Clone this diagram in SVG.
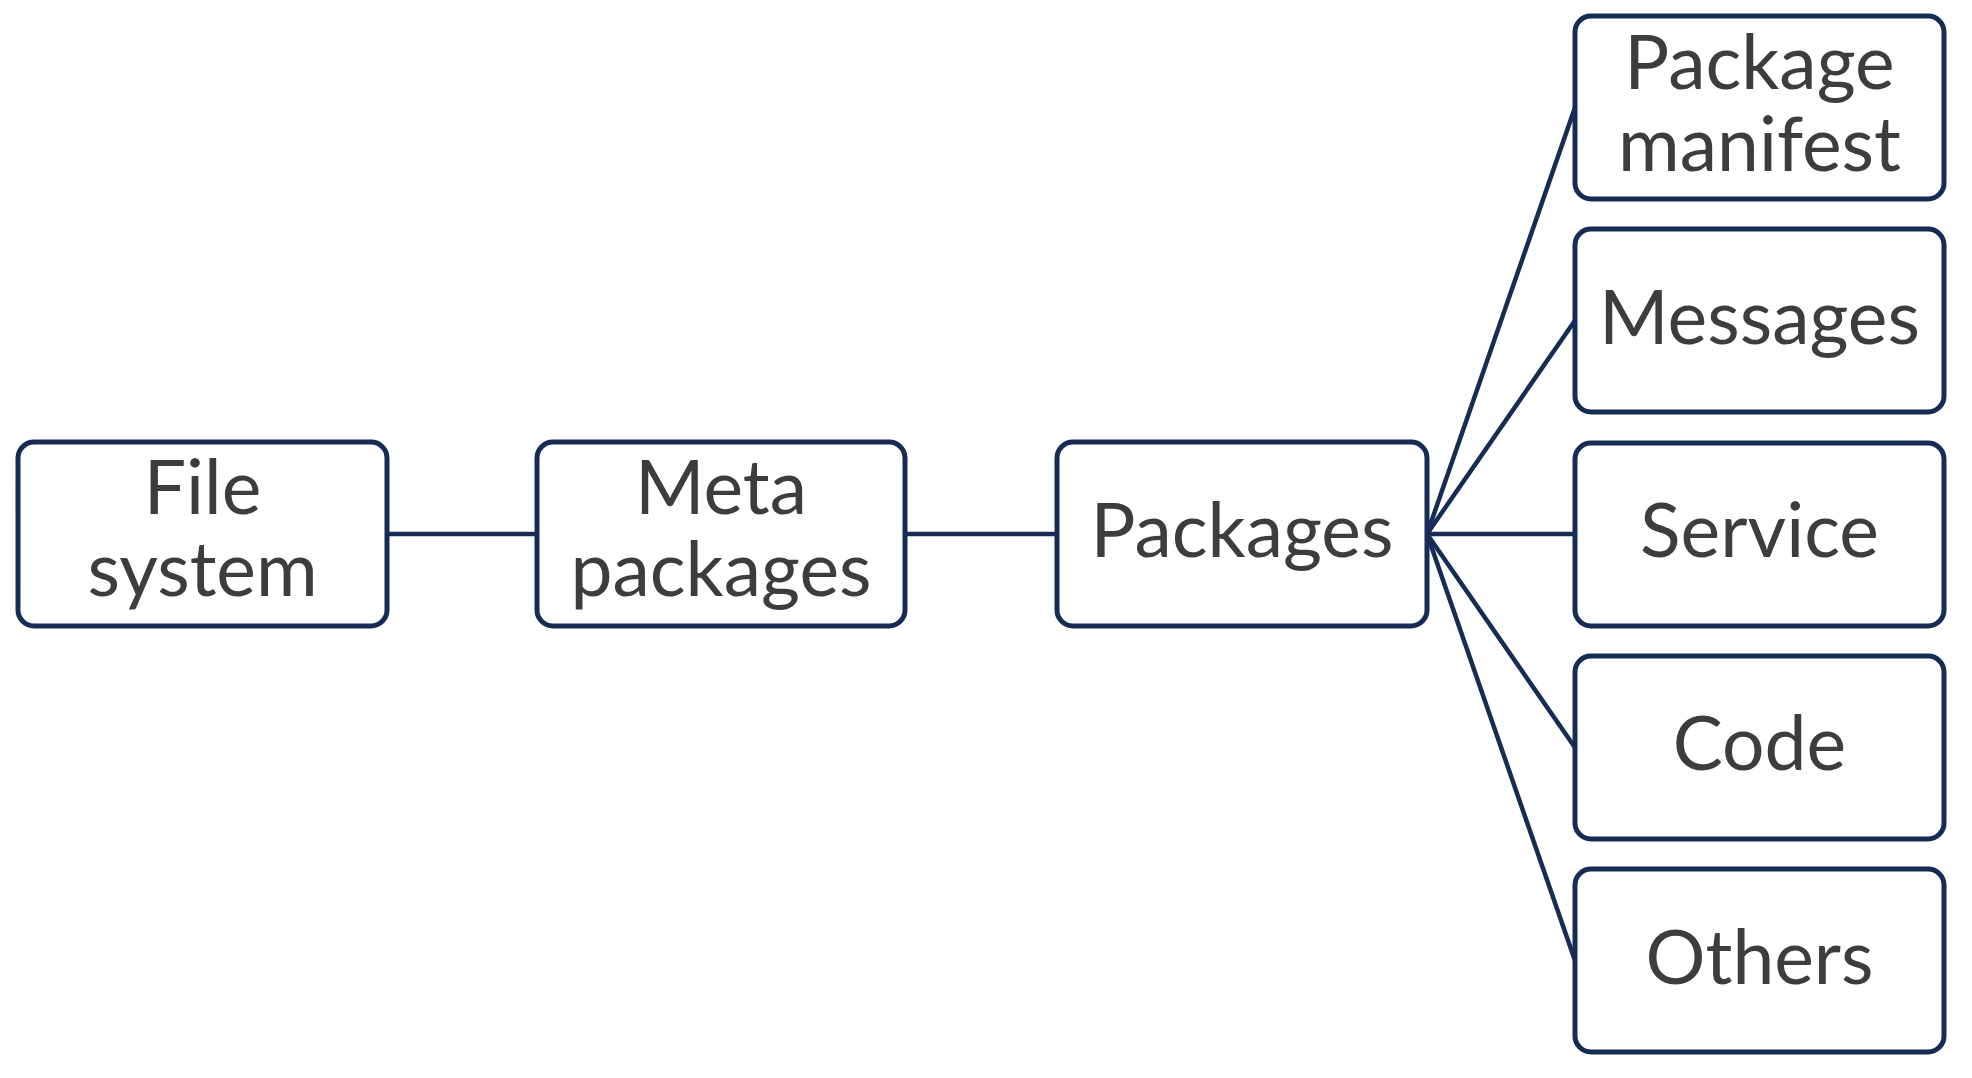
<svg xmlns="http://www.w3.org/2000/svg" width="1972" height="1078" viewBox="0 0 1972 1078">
<style>
.box{fill:#fff;stroke:#172c54;stroke-width:5}
.lbl{font-family:Lato,"Open Sans",sans-serif;font-size:75px;fill:#3d3d3d;text-anchor:middle}
.con{stroke:#172c54;stroke-width:4.5;fill:none}
</style>
<rect width="1972" height="1078" fill="#fff"/>
<g id="connectors">
<line class="con" x1="387" y1="534" x2="537" y2="534"/>
<line class="con" x1="905" y1="534" x2="1057" y2="534"/>
<line class="con" x1="1427" y1="534" x2="1575" y2="107.5"/>
<line class="con" x1="1427" y1="534" x2="1575" y2="320.5"/>
<line class="con" x1="1427" y1="534" x2="1575" y2="534"/>
<line class="con" x1="1427" y1="534" x2="1575" y2="747.5"/>
<line class="con" x1="1427" y1="534" x2="1575" y2="960.5"/>
</g>
<g id="file-system">
<rect class="box" x="18" y="442" width="369" height="184" rx="16"/>
<text class="lbl" x="202.5" y="514">File</text>
<text class="lbl" x="202.5" y="596">system</text>
</g>
<g id="meta-packages">
<rect class="box" x="537" y="442" width="368" height="184" rx="16"/>
<text class="lbl" x="721" y="514">Meta</text>
<text class="lbl" x="721" y="596">packages</text>
</g>
<g id="packages">
<rect class="box" x="1057" y="442" width="370" height="184" rx="16"/>
<text class="lbl" x="1242" y="557">Packages</text>
</g>
<g id="package-manifest">
<rect class="box" x="1575" y="16" width="369" height="183" rx="16"/>
<text class="lbl" x="1759.5" y="89">Package</text>
<text class="lbl" x="1759.5" y="171">manifest</text>
</g>
<g id="messages">
<rect class="box" x="1575" y="229" width="369" height="183" rx="16"/>
<text class="lbl" x="1759.5" y="344">Messages</text>
</g>
<g id="service">
<rect class="box" x="1575" y="443" width="369" height="183" rx="16"/>
<text class="lbl" x="1759.5" y="557">Service</text>
</g>
<g id="code">
<rect class="box" x="1575" y="656" width="369" height="183" rx="16"/>
<text class="lbl" x="1759.5" y="770">Code</text>
</g>
<g id="others">
<rect class="box" x="1575" y="869" width="369" height="183" rx="16"/>
<text class="lbl" x="1759.5" y="984">Others</text>
</g>
</svg>
